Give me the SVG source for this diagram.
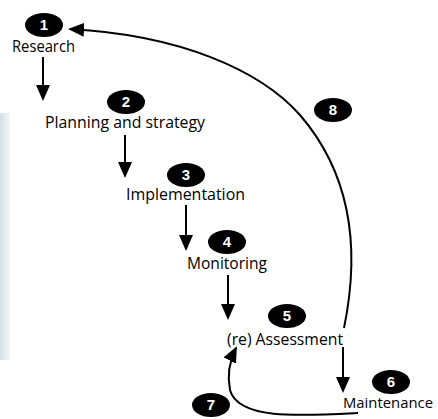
<svg xmlns="http://www.w3.org/2000/svg" width="438" height="419" viewBox="0 0 438 419">
  <defs>
    <marker id="ah" markerWidth="16" markerHeight="16" viewBox="0 0 16 16" refX="14" refY="8" orient="auto" markerUnits="userSpaceOnUse">
      <path d="M0,1 L16,8 L0,15 Z" fill="#000"/>
    </marker>
    <linearGradient id="strip" x1="0" y1="0" x2="1" y2="0">
      <stop offset="0" stop-color="#d3dfe5"/>
      <stop offset="1" stop-color="#f3f7f9"/>
    </linearGradient>
  </defs>
  <style>
    .lbl { font-family: "Open Sans", "Liberation Sans", sans-serif; font-size: 16px; fill: #000; text-anchor: start; }
    .num { font-family: "Liberation Sans", Arial, sans-serif; font-size: 15px; font-weight: bold; fill: #fff; text-anchor: middle; }
    .badge { fill: #000; }
    .conn { stroke: #000; stroke-width: 2; fill: none; }
  </style>
  <rect width="438" height="419" fill="#fff"/>
  <rect x="0" y="113" width="10" height="247" fill="url(#strip)"/>

  <g id="connectors">
    <line class="conn" x1="43" y1="57" x2="43" y2="99" marker-end="url(#ah)"/>
    <line class="conn" x1="125" y1="135" x2="125" y2="176" marker-end="url(#ah)"/>
    <line class="conn" x1="186" y1="205" x2="186" y2="249" marker-end="url(#ah)"/>
    <line class="conn" x1="228" y1="275" x2="228" y2="318" marker-end="url(#ah)"/>
    <line class="conn" x1="343" y1="347" x2="343" y2="391" marker-end="url(#ah)"/>
    <path class="conn" d="M344,328 C358,260 356,180 300,115 C260,70 180,35 70,29" marker-end="url(#ah)"/>
    <path class="conn" d="M358,413 C300,416 238,420 230,390 C227,375 229,362 236,348" marker-end="url(#ah)"/>
  </g>

  <g id="n1">
    <ellipse class="badge" cx="44" cy="25" rx="19" ry="12"/>
    <text class="num" x="44" y="30">1</text>
    <text class="lbl" x="12" y="52" textLength="63" lengthAdjust="spacingAndGlyphs">Research</text>
  </g>
  <g id="n2">
    <ellipse class="badge" cx="126" cy="102" rx="19" ry="12"/>
    <text class="num" x="126" y="107">2</text>
    <text class="lbl" x="45" y="128" textLength="160" lengthAdjust="spacingAndGlyphs">Planning and strategy</text>
  </g>
  <g id="n3">
    <ellipse class="badge" cx="186" cy="175" rx="19" ry="12"/>
    <text class="num" x="186" y="180">3</text>
    <text class="lbl" x="126" y="200" textLength="119" lengthAdjust="spacingAndGlyphs">Implementation</text>
  </g>
  <g id="n4">
    <ellipse class="badge" cx="227" cy="242" rx="19" ry="12"/>
    <text class="num" x="227" y="247">4</text>
    <text class="lbl" x="187" y="269" textLength="80" lengthAdjust="spacingAndGlyphs">Monitoring</text>
  </g>
  <g id="n5">
    <ellipse class="badge" cx="287" cy="316" rx="19" ry="12"/>
    <text class="num" x="287" y="321">5</text>
    <text class="lbl" x="227" y="345" textLength="116" lengthAdjust="spacingAndGlyphs">(re) Assessment</text>
  </g>
  <g id="n6">
    <ellipse class="badge" cx="391" cy="382" rx="19" ry="12"/>
    <text class="num" x="391" y="387">6</text>
    <text class="lbl" x="343" y="408" style="font-size:15px" textLength="90" lengthAdjust="spacingAndGlyphs">Maintenance</text>
  </g>
  <g id="n7">
    <ellipse class="badge" cx="211" cy="405" rx="19" ry="12"/>
    <text class="num" x="211" y="410">7</text>
  </g>
  <g id="n8">
    <ellipse class="badge" cx="333" cy="110" rx="19" ry="12"/>
    <text class="num" x="333" y="115">8</text>
  </g>
</svg>
